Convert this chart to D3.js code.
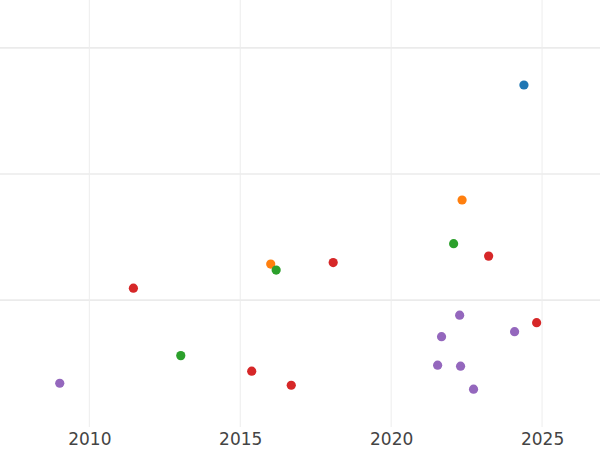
<!DOCTYPE html>
<html><head><meta charset="utf-8">
<script src="https://cdn.jsdelivr.net/npm/d3@7"></script>
<style>body{margin:0;background:#fff}svg{display:block}</style>
</head><body>
<svg id="c" width="600" height="450"></svg>
<script>
const seriesNames = ["blue", "orange", "green", "red", "purple"];
const seriesColors = ["#1f77b4", "#ff7f0e", "#2ca02c", "#d62728", "#9467bd"];
const blueYears = [2024.40];
const blueValues = [27.06];
const orangeYears = [2022.35, 2016.01];
const orangeValues = [17.94, 12.86];
const greenYears = [2022.07, 2016.19, 2013.03];
const greenValues = [14.48, 12.38, 5.60];
const redYears = [2023.23, 2018.08, 2011.46, 2024.82, 2015.38, 2016.69];
const redValues = [13.49, 12.98, 10.95, 8.21, 4.37, 3.25];
const purpleYears = [2022.27, 2021.67, 2024.09, 2009.02, 2021.54, 2022.30, 2022.73];
const purpleValues = [8.81, 7.10, 7.50, 3.41, 4.84, 4.76, 2.94];
const xTicks = [2010, 2015, 2020, 2025];
const yTicks = [10, 20, 30];

const allYears = [blueYears, orangeYears, greenYears, redYears, purpleYears];
const allValues = [blueValues, orangeValues, greenValues, redValues, purpleValues];
const points = [];
allYears.forEach((ys, i) => ys.forEach((y, j) => points.push({s: i, x: y, v: allValues[i][j]})));

const W = 600, plotH = 427;
const svg = d3.select("#c");
const x = d3.scaleLinear().domain([2007.04, 2026.92]).range([0, W]);
const y = d3.scaleLinear().domain([-0.06, 33.8]).range([plotH, 0]);

svg.append("g").selectAll("line").data(yTicks).join("line")
  .attr("x1", 0).attr("x2", W)
  .attr("y1", d => y(d)).attr("y2", d => y(d))
  .attr("stroke", "#ebebeb").attr("stroke-width", 1.6);

svg.append("g").selectAll("line").data(xTicks).join("line")
  .attr("x1", d => x(d)).attr("x2", d => x(d))
  .attr("y1", 0).attr("y2", plotH)
  .attr("stroke", "#ededed").attr("stroke-width", 1);

const xAxis = d3.axisBottom(x).tickValues(xTicks).tickFormat(d3.format("d")).tickSize(0).tickPadding(6);
const ax = svg.append("g").attr("transform", `translate(0,${plotH})`).call(xAxis);
ax.select(".domain").remove();
ax.selectAll("text").attr("font-family", "DejaVu Sans").attr("font-size", 17).attr("fill", "#444");

svg.append("g").selectAll("circle").data(points).join("circle")
  .attr("cx", d => x(d.x)).attr("cy", d => y(d.v)).attr("r", 4.6)
  .attr("fill", d => seriesColors[d.s]);
</script>
</body></html>
